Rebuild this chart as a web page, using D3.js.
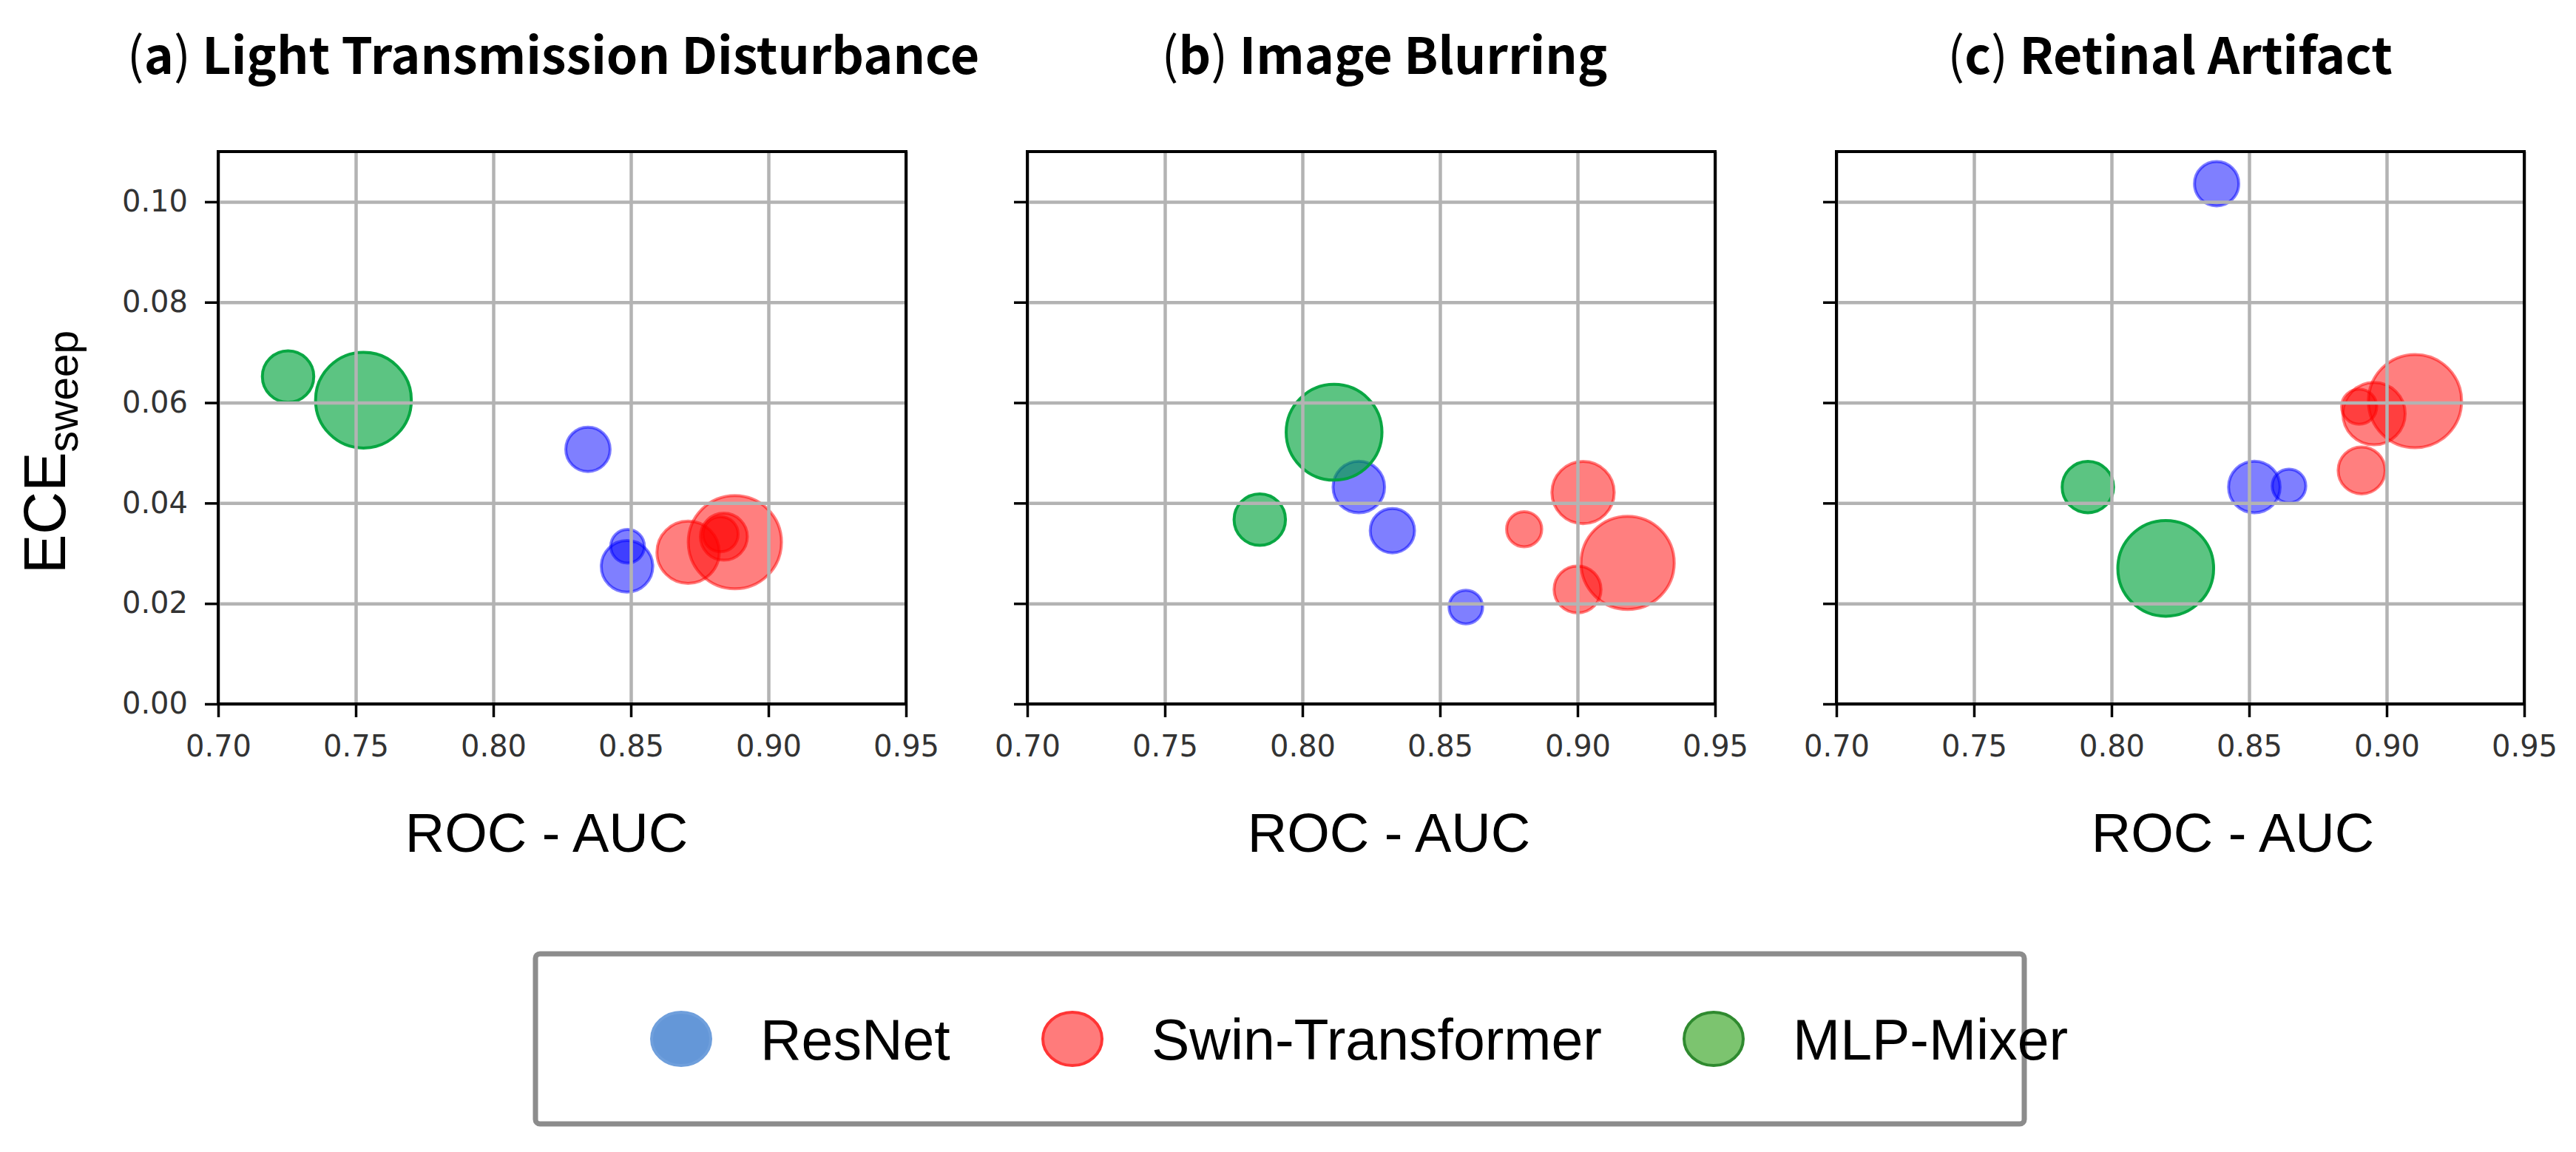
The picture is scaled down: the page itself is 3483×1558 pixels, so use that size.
<!DOCTYPE html>
<html>
<head>
<meta charset="utf-8">
<script src="https://cdn.jsdelivr.net/npm/d3@7"></script>
<style>
  body { margin: 0; background: #fff; }
</style>
</head>
<body>
<div id="chart"></div>
<script>
// data
var panelTitles = ['Light Transmission Disturbance', 'Image Blurring', 'Retinal Artifact'];
var panelTags = ['a', 'b', 'c'];
var families = ['ResNet', 'Swin-Transformer', 'MLP-Mixer'];

// bubble size = parameters (M)
var resnetParams = [25.6, 44.5, 60.2];
var resnetAUC = [[0.8488, 0.8344, 0.8486], [0.8594, 0.8327, 0.8205], [0.8645, 0.8382, 0.8519]];
var resnetECE = [[0.0314, 0.0507, 0.0274], [0.0193, 0.0345, 0.0432], [0.0434, 0.1036, 0.0432]];

var swinParams = [28, 50, 88, 197];
var swinAUC = [[0.8826, 0.8838, 0.8708, 0.8878], [0.8806, 0.9000, 0.9020, 0.9182], [0.8900, 0.8909, 0.8954, 0.9103]];
var swinECE = [[0.0338, 0.0333, 0.0302, 0.0322], [0.0348, 0.0228, 0.0421, 0.0281], [0.0592, 0.0465, 0.0578, 0.0603]];

var mixerParams = [59.9, 208];
var mixerAUC = [[0.7254, 0.7528], [0.7845, 0.8115], [0.7914, 0.8197]];
var mixerECE = [[0.0652, 0.0605], [0.0367, 0.0541], [0.0432, 0.0270]];

var xTicks = [0.70, 0.75, 0.80, 0.85, 0.90, 0.95];
var yTicks = [0.00, 0.02, 0.04, 0.06, 0.08, 0.10];

// layout
var width = 3483, height = 1558;
var panel_left = [295, 1389, 2483];
var panel_w = 930;
var panel_top = 205, panel_bottom = 952;
var panel_h = panel_bottom - panel_top;
var title_shift = [-12, 18, -14];
var xlabel_shift = [-21, 24, 71];

var fills = ['#0000ff', '#ff0000', '#00a33c'];
var fill_op = [0.5, 0.5, 0.64];
var stroke_op = [0.5, 0.5, 0.95];

var series = [
    {params: resnetParams, auc: resnetAUC, ece: resnetECE},
    {params: swinParams, auc: swinAUC, ece: swinECE},
    {params: mixerParams, auc: mixerAUC, ece: mixerECE}
];

var svg = d3.select('#chart').append('svg')
    .attr('width', width).attr('height', height)
    .style('display', 'block');

var x = d3.scaleLinear().domain([0.70, 0.95]).range([0, panel_w]);
var y = d3.scaleLinear().domain([0, 0.11]).range([panel_h, 0]);
var r = d3.scaleSqrt().domain([0, 200]).range([0, 63.5]);

panelTitles.forEach(function(title, p) {
    var g = svg.append('g')
        .attr('transform', 'translate(' + panel_left[p] + ',' + panel_top + ')');

    // bubbles
    series.forEach(function(s, k) {
        var pts = s.params.map(function(m, i) {
            return {m: m, auc: s.auc[p][i], ece: s.ece[p][i]};
        });
        g.append('g').selectAll('circle')
            .data(pts).enter().append('circle')
            .attr('cx', function(d) { return x(d.auc); })
            .attr('cy', function(d) { return y(d.ece); })
            .attr('r', function(d) { return r(d.m); })
            .attr('fill', fills[k]).attr('fill-opacity', fill_op[k])
            .attr('stroke', fills[k]).attr('stroke-opacity', stroke_op[k])
            .attr('stroke-width', 4);
    });

    // grid on top of the bubbles, like matplotlib
    var gx = g.append('g')
        .attr('transform', 'translate(0,' + panel_h + ')')
        .call(d3.axisBottom(x).tickValues(xTicks).tickSize(-panel_h).tickFormat(''));
    var gy = g.append('g')
        .call(d3.axisLeft(y).tickValues(yTicks).tickSize(-panel_w).tickFormat(''));
    [gx, gy].forEach(function(a) {
        a.select('.domain').remove();
        a.selectAll('line').attr('stroke', '#b3b3b3').attr('stroke-width', 4.5);
    });

    // ticks + labels
    var ax = g.append('g')
        .attr('transform', 'translate(0,' + panel_h + ')')
        .call(d3.axisBottom(x).tickValues(xTicks).tickSize(18).tickPadding(25)
            .tickFormat(d3.format('.2f')));
    var ay = g.append('g')
        .call(d3.axisLeft(y).tickValues(yTicks).tickSize(18).tickPadding(23)
            .tickFormat(p == 0 ? d3.format('.2f') : ''));
    [ax, ay].forEach(function(a) {
        a.select('.domain').remove();
        a.selectAll('line').attr('stroke', '#000').attr('stroke-width', 3.5);
        a.attr('font-family', 'DejaVu Sans').attr('font-size', 40);
        a.selectAll('text').attr('fill', '#333');
    });

    // spines
    g.append('rect')
        .attr('width', panel_w).attr('height', panel_h)
        .attr('fill', 'none').attr('stroke', '#000').attr('stroke-width', 4);

    // title
    var t = svg.append('text')
        .attr('x', panel_left[p] + panel_w / 2 + title_shift[p]).attr('y', 100)
        .attr('text-anchor', 'middle')
        .attr('font-family', 'Noto Sans CJK JP')
        .attr('font-size', 68).attr('font-weight', 'bold')
        .attr('fill', '#000');
    t.append('tspan').attr('font-weight', 'normal').text('(');
    t.append('tspan').text(panelTags[p]);
    t.append('tspan').attr('font-weight', 'normal').text(')');
    t.append('tspan').text(' ' + title);

    // x label
    svg.append('text')
        .attr('x', panel_left[p] + panel_w / 2 + xlabel_shift[p]).attr('y', 1152)
        .attr('text-anchor', 'middle')
        .attr('font-family', 'Liberation Sans')
        .attr('font-size', 74)
        .text('ROC - AUC');
});

// y label with subscript
var yl = svg.append('text')
    .attr('transform', 'translate(88,776) rotate(-90)')
    .attr('font-family', 'Liberation Sans')
    .attr('font-size', 80);
yl.append('tspan').text('ECE');
yl.append('tspan').attr('font-size', 57).attr('dy', 17).text('sweep');

// legend
var legend = svg.append('g');
legend.append('rect')
    .attr('x', 724).attr('y', 1290).attr('width', 2013).attr('height', 230)
    .attr('rx', 6)
    .attr('fill', '#fff').attr('stroke', '#8c8c8c').attr('stroke-width', 7);

var leg_marker_x = [921, 1450, 2317];
var leg_fill = ['#6497d8', '#ff7b7b', '#7cc46f'];
var leg_edge = ['#6f9fdc', '#ff3535', '#2f8a2f'];
var leg_items = legend.selectAll('g.item')
    .data(families).enter().append('g').attr('class', 'item');
leg_items.append('ellipse')
    .attr('cx', function(d, i) { return leg_marker_x[i]; })
    .attr('cy', 1405).attr('rx', 40).attr('ry', 36)
    .attr('fill', function(d, i) { return leg_fill[i]; })
    .attr('stroke', function(d, i) { return leg_edge[i]; })
    .attr('stroke-width', 4);
leg_items.append('text')
    .attr('x', function(d, i) { return leg_marker_x[i] + 107; })
    .attr('y', 1433)
    .attr('font-family', 'Liberation Sans')
    .attr('font-size', 77)
    .text(function(d) { return d; });
</script>
</body>
</html>
